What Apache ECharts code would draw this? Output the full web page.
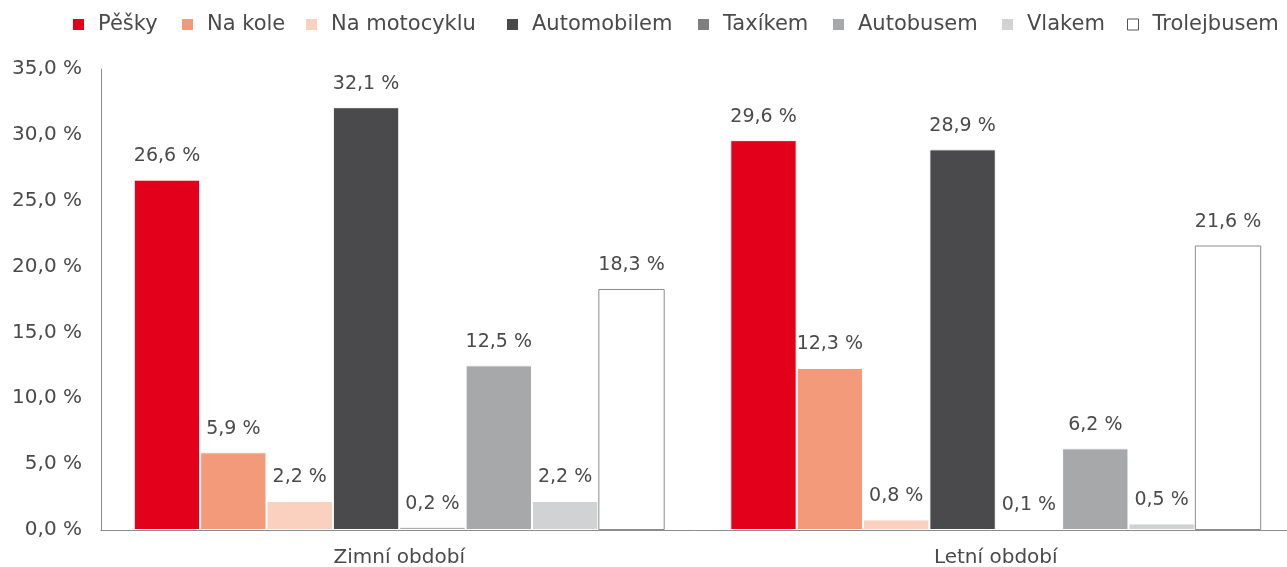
<!DOCTYPE html>
<html>
<head>
<meta charset="utf-8">
<script src="https://cdn.jsdelivr.net/npm/echarts@6/dist/echarts.min.js"></script>
<style>
  html, body { margin: 0; padding: 0; background: #fff; }
  #chart { width: 1287px; height: 567px; }
</style>
</head>
<body>
<div id="chart"></div>
<script>
// období
const categories = ["Zimní období", "Letní období"];
// způsob dopravy
const seriesNames = ["Pěšky", "Na kole", "Na motocyklu", "Automobilem", "Taxíkem", "Autobusem", "Vlakem", "Trolejbusem"];
const pesky = [26.6, 29.6];
const naKole = [5.9, 12.3];
const naMotocyklu = [2.2, 0.8];
const automobilem = [32.1, 28.9];
const taxikem = [0.2, 0.1];
const autobusem = [12.5, 6.2];
const vlakem = [2.2, 0.5];
const trolejbusem = [18.3, 21.6];
const yTicks = [0, 5, 10, 15, 20, 25, 30, 35];

const values = [pesky, naKole, naMotocyklu, automobilem, taxikem, autobusem, vlakem, trolejbusem];
const colors = ["#e2001a", "#f39a7a", "#fad0be", "#4a4a4c", "#7f7f7f", "#a7a8aa", "#d1d2d4", "#ffffff"];
// levé okraje položek legendy
const legendLeft = [73, 182, 306, 507, 698, 833, 1002, 1127];

const fmt = (v) => v.toFixed(1).replace(".", ",") + " %";
const font = "'DejaVu Sans', sans-serif";
const textColor = "#4a4a4a";

const myChart = echarts.init(document.getElementById("chart"));

const series = seriesNames.map((name, i) => ({
  name: name,
  type: "bar",
  barGap: 0,
  barCategoryGap: "11%",
  data: values[i],
  itemStyle: {
    color: colors[i],
    borderColor: i === 7 ? "#8c8c8c" : "#ffffff",
    borderWidth: 1,
  },
  label: {
    show: true,
    position: "top",
    distance: 14,
    formatter: (p) => fmt(p.value),
    fontFamily: font,
    fontSize: 19,
    color: textColor,
  },
}));

// každá položka legendy zvlášť, aby seděly pozice
const legends = seriesNames.map((n, i) => ({
  top: 14,
  left: legendLeft[i],
  padding: 0,
  icon: "rect",
  itemWidth: 11,
  itemHeight: 11,
  textStyle: { fontFamily: font, fontSize: 21, color: textColor, padding: [0, 0, 0, 9] },
  data: [{
    name: n,
    itemStyle: i === 7
      ? { color: "#fff", borderColor: "#555", borderWidth: 1 }
      : { color: colors[i], borderWidth: 0 },
  }],
}));

const options = {
  animation: false,
  legend: legends,
  grid: { left: 101, top: 69, width: 1193, bottom: 37, outerBoundsMode: "none" },
  xAxis: {
    type: "category",
    data: categories,
    axisLine: { lineStyle: { color: "#8c8c8c" } },
    axisTick: { show: false },
    axisLabel: { fontFamily: font, fontSize: 20, color: textColor, margin: 18 },
  },
  yAxis: {
    type: "value",
    min: yTicks[0],
    max: yTicks[yTicks.length - 1],
    interval: 5,
    axisLine: { show: true, lineStyle: { color: "#8c8c8c" } },
    axisTick: { show: false },
    splitLine: { show: false },
    axisLabel: {
      fontFamily: font,
      fontSize: 20,
      color: textColor,
      margin: 19,
      formatter: (v) => fmt(v),
    },
  },
  series: series,
};
myChart.setOption(options);
</script>
</body>
</html>
